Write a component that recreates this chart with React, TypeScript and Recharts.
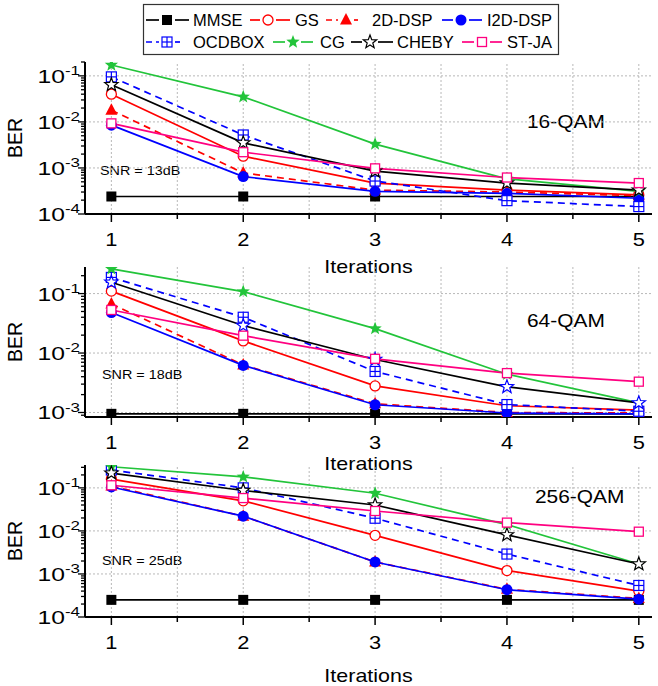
import { LineChart, Line, XAxis, YAxis, ReferenceLine } from "recharts";

const iterations = [1, 2, 3, 4, 5];
const seriesNames = ["MMSE", "GS", "2D-DSP", "I2D-DSP", "OCDBOX", "CG", "CHEBY", "ST-JA"];

// 16-QAM, SNR = 13dB
const mmse16 = [2.4e-4, 2.4e-4, 2.4e-4, 2.4e-4, 2.4e-4];
const gs16 = [0.04, 0.0018, 4.7e-4, 3.3e-4, 2.6e-4];
const dsp16 = [0.018, 7.8e-4, 3.3e-4, 3.0e-4, 2.5e-4];
const i2d16 = [0.0085, 6.5e-4, 3.1e-4, 2.8e-4, 2.2e-4];
const ocd16 = [0.095, 0.0052, 5.2e-4, 1.95e-4, 1.45e-4];
const cg16 = [0.172, 0.035, 0.0033, 5.8e-4, 3.1e-4];
const cheby16 = [0.064, 0.0035, 8.5e-4, 4.7e-4, 3.3e-4];
const stja16 = [0.0093, 0.0022, 9.8e-4, 6.2e-4, 4.7e-4];

// 64-QAM, SNR = 18dB
const mmse64 = [9.5e-4, 9.5e-4, 9.5e-4, 9.5e-4, 9.5e-4];
const gs64 = [0.11, 0.016, 0.0028, 0.0013, 1.1e-3];
const dsp64 = [0.067, 0.0063, 0.0014, 1.0e-3, 9.8e-4];
const i2d64 = [0.048, 0.0062, 0.00135, 9.8e-4, 9.5e-4];
const ocd64 = [0.187, 0.04, 0.0049, 0.00136, 1.05e-3];
const cg64 = [0.26, 0.108, 0.0257, 0.0044, 0.00145];
const cheby64 = [0.155, 0.029, 0.0078, 0.0027, 0.00145];
const stja64 = [0.053, 0.0196, 0.008, 0.0046, 0.0033];

// 256-QAM, SNR = 25dB
const mmse256 = [2.5e-4, 2.5e-4, 2.5e-4, 2.5e-4, 2.5e-4];
const gs256 = [0.16, 0.05, 0.0079, 0.0012, 4.0e-4];
const dsp256 = [0.11, 0.022, 0.0019, 4.4e-4, 2.7e-4];
const i2d256 = [0.105, 0.022, 0.0019, 4.3e-4, 2.6e-4];
const ocd256 = [0.26, 0.1, 0.0197, 0.0029, 5.4e-4];
const cg256 = [0.31, 0.18, 0.075, 0.014, 0.0017];
const cheby256 = [0.22, 0.087, 0.04, 0.0081, 0.0017];
const stja256 = [0.115, 0.058, 0.029, 0.0156, 0.0096];

const xTicks = [1, 1.5, 2, 2.5, 3, 3.5, 4, 4.5, 5];
const decades = [1e-4, 1e-3, 1e-2, 1e-1];
const minorTicks = decades.flatMap((d) => [1, 2, 3, 4, 5, 6, 7, 8, 9].map((m) => m * d));

const FONT = "'Liberation Sans', Arial, sans-serif";
const RED = "#ff0000";
const BLUE = "#0000ff";
const GREEN = "#22c43a";
const PINK = "#ff0080";

document.body.style.margin = "0";

const styles: Record<string, { color: string; dash?: string; shape: string }> = {
  MMSE: { color: "#000", shape: "square" },
  GS: { color: RED, shape: "circleOpen" },
  "2D-DSP": { color: RED, dash: "7 5", shape: "triangle" },
  "I2D-DSP": { color: BLUE, shape: "circle" },
  OCDBOX: { color: BLUE, dash: "7 5", shape: "boxPlus" },
  CG: { color: GREEN, shape: "star" },
  CHEBY: { color: "#000", shape: "starOpen" },
  "ST-JA": { color: PINK, shape: "squareOpen" },
};

function toRows(cols: number[][]) {
  return iterations.map((it, i) => {
    const row: Record<string, number> = { it };
    seriesNames.forEach((n, k) => (row[n] = cols[k][i]));
    return row;
  });
}

const rows16 = toRows([mmse16, gs16, dsp16, i2d16, ocd16, cg16, cheby16, stja16]);
const rows64 = toRows([mmse64, gs64, dsp64, i2d64, ocd64, cg64, cheby64, stja64]);
const rows256 = toRows([mmse256, gs256, dsp256, i2d256, ocd256, cg256, cheby256, stja256]);

function starPath(cx: number, cy: number, R: number) {
  const pts: string[] = [];
  for (let i = 0; i < 10; i++) {
    const a = (-90 + i * 36) * (Math.PI / 180);
    const r = i % 2 ? R * 0.42 : R;
    pts.push(`${cx + r * Math.cos(a)},${cy + r * Math.sin(a)}`);
  }
  return `M${pts.join("L")}Z`;
}

function Marker({ shape, cx, cy, color }: { shape: string; cx: number; cy: number; color: string }) {
  switch (shape) {
    case "square":
      return <rect x={cx - 5} y={cy - 5} width={10} height={10} fill={color} />;
    case "circleOpen":
      return <circle cx={cx} cy={cy} r={5} fill="#fff" stroke={color} strokeWidth={1.3} />;
    case "triangle":
      return <path d={`M${cx},${cy - 7}L${cx + 6},${cy + 4.5}L${cx - 6},${cy + 4.5}Z`} fill={color} />;
    case "circle":
      return <circle cx={cx} cy={cy} r={5.5} fill={color} />;
    case "boxPlus":
      return (
        <g stroke={color} strokeWidth={1.2}>
          <rect x={cx - 5} y={cy - 5} width={10} height={10} fill="#fff" />
          <line x1={cx - 5} x2={cx + 5} y1={cy} y2={cy} />
          <line x1={cx} x2={cx} y1={cy - 5} y2={cy + 5} />
        </g>
      );
    case "star":
      return <path d={starPath(cx, cy, 7)} fill={color} />;
    case "starOpen":
      return <path d={starPath(cx, cy, 7)} fill="#fff" stroke={color} strokeWidth={1.2} />;
    default:
      return <rect x={cx - 4.5} y={cy - 4.5} width={9} height={9} fill="#fff" stroke={color} strokeWidth={1.3} />;
  }
}

// text drawn a bit wider than tall, like the original export
function WideText({ x, y, size, sx, anchor = "start", children }: any) {
  return (
    <g transform={`translate(${x} ${y}) scale(${sx} 1)`}>
      <text x={0} y={0} textAnchor={anchor} fontSize={size} fontFamily={FONT} fill="#000">
        {children}
      </text>
    </g>
  );
}

function XTick(p: any) {
  const v = p.payload.value;
  const major = Number.isInteger(v);
  return (
    <g>
      <line x1={p.x} x2={p.x} y1={p.y} y2={p.y + (major ? 8 : 5)} stroke="#000" strokeWidth={1.5} />
      {major && (
        <WideText x={p.x} y={p.y + 32} size={19} sx={1.15} anchor="middle">
          {v}
        </WideText>
      )}
    </g>
  );
}

function YTick(p: any) {
  const v = p.payload.value;
  const exp = Math.round(Math.log10(v));
  const major = Math.abs(v - Math.pow(10, exp)) < Math.pow(10, exp) * 1e-6;
  return (
    <g>
      <line x1={p.x - (major ? 7 : 4)} x2={p.x} y1={p.y} y2={p.y} stroke="#000" strokeWidth={1.3} />
      {major && (
        <WideText x={p.x - 5} y={p.y + 7} size={19} sx={1.3} anchor="end">
          10
          <tspan dy={-8} fontSize={13}>
            {String(exp)}
          </tspan>
        </WideText>
      )}
    </g>
  );
}

type PanelProps = {
  data: Record<string, number>[];
  domain: [number, number];
  top: number;
  bottom: number;
  titleOffset: number;
  chebyColor?: string;
};

function Panel({ data, domain, top, bottom, titleOffset, chebyColor }: PanelProps) {
  const [lo, hi] = domain;
  const yTicks = minorTicks.filter((v) => v >= lo * 0.999 && v <= hi * 1.001);
  const grid = "#b8b8b8";
  return (
    <div style={{ position: "absolute", left: 0, top: 0 }}>
      <LineChart width={658} height={686} data={data} margin={{ top, right: 6, bottom: 686 - bottom - 60, left: 0 }}>
        <XAxis
          dataKey="it"
          type="number"
          domain={[0.8, 5.1]}
          ticks={xTicks}
          interval={0}
          tickSize={0}
          tickMargin={0}
          height={60}
          allowDataOverflow
          axisLine={{ stroke: "#000", strokeWidth: 2 }}
          tickLine={false}
          tick={(p: any) => <XTick {...p} />}
          label={(p: any) => {
            const vb = p.viewBox;
            return (
              <WideText x={vb.x + vb.width / 2} y={vb.y + titleOffset + 7} size={19} sx={1.13} anchor="middle">
                Iterations
              </WideText>
            );
          }}
        />
        <YAxis
          type="number"
          scale="log"
          domain={domain}
          ticks={yTicks}
          interval={0}
          tickSize={0}
          tickMargin={0}
          width={85}
          allowDataOverflow
          axisLine={{ stroke: "#000", strokeWidth: 2 }}
          tickLine={false}
          tick={(p: any) => <YTick {...p} />}
          label={(p: any) => {
            const vb = p.viewBox;
            const cx = vb.x + 15;
            const cy = vb.y + vb.height / 2;
            return (
              <text x={cx} y={cy} transform={`rotate(-90 ${cx} ${cy})`} textAnchor="middle" dominantBaseline="central" fontSize={19.5} fontFamily={FONT} fill="#000">
                BER
              </text>
            );
          }}
        />
        {xTicks.map((v) => (
          <ReferenceLine key={`gx${v}`} x={v} stroke={grid} strokeDasharray="2 2" strokeWidth={1} />
        ))}
        {decades
          .filter((d) => d > lo * 1.01 && d < hi)
          .map((d) => (
            <ReferenceLine key={`gy${d}`} y={d} stroke={grid} strokeDasharray="2 2" strokeWidth={1} />
          ))}
        {seriesNames.map((name) => {
          const s = styles[name];
          const mc = name === "CHEBY" && chebyColor ? chebyColor : s.color;
          return (
            <Line
              key={name}
              dataKey={name}
              type="linear"
              stroke={s.color}
              strokeWidth={1.7}
              strokeDasharray={s.dash}
              isAnimationActive={false}
              activeDot={false}
              dot={(p: any) => <Marker key={`${name}-${p.index}`} shape={s.shape} cx={p.cx} cy={p.cy} color={mc} />}
            />
          );
        })}
      </LineChart>
    </div>
  );
}

function Overlay() {
  const row1 = [
    { name: "MMSE", x0: 146, m: 167, x1: 189, tx: 193 },
    { name: "GS", x0: 250, m: 268, x1: 290, tx: 295 },
    { name: "2D-DSP", x0: 326, m: 346, x1: 358, tx: 372 },
    { name: "I2D-DSP", x0: 442, m: 461, x1: 482, tx: 487 },
  ];
  const row2 = [
    { name: "OCDBOX", x0: 146, m: 167, x1: 180, tx: 193 },
    { name: "CG", x0: 273, m: 293, x1: 313, tx: 320 },
    { name: "CHEBY", x0: 351, m: 370, x1: 393, tx: 397 },
    { name: "ST-JA", x0: 462, m: 482, x1: 502, tx: 507 },
  ];
  const item = (it: any, y: number) => {
    const s = styles[it.name];
    return (
      <g key={it.name}>
        <line x1={it.x0} x2={it.m - 8} y1={y} y2={y} stroke={s.color} strokeWidth={1.7} strokeDasharray={s.dash ? "6 4" : undefined} />
        <line x1={it.m + 8} x2={it.x1} y1={y} y2={y} stroke={s.color} strokeWidth={1.7} />
        <Marker shape={s.shape} cx={it.m} cy={y} color={s.color} />
        <text x={it.tx} y={y + 6} fontSize={16.5} fontFamily={FONT} fill="#000">
          {it.name}
        </text>
      </g>
    );
  };
  return (
    <svg width={658} height={686} style={{ position: "absolute", left: 0, top: 0 }}>
      <rect x={143.5} y={4.5} width={415} height={50} fill="#fff" stroke="#333" strokeWidth={1.2} />
      {row1.map((it) => item(it, 20))}
      {row2.map((it) => item(it, 42))}
      <WideText x={527} y={128} size={19} sx={1.1}>16-QAM</WideText>
      <WideText x={100} y={175} size={12.5} sx={1.15}>SNR = 13dB</WideText>
      <WideText x={527} y={327} size={19} sx={1.1}>64-QAM</WideText>
      <WideText x={102} y={379} size={12.5} sx={1.15}>SNR = 18dB</WideText>
      <WideText x={535} y={503} size={19} sx={1.1}>256-QAM</WideText>
      <WideText x={102} y={565} size={12.5} sx={1.15}>SNR = 25dB</WideText>
    </svg>
  );
}

export default function App() {
  return (
    <div style={{ position: "relative", width: 658, height: 686, overflow: "hidden", background: "#fff" }}>
      <Overlay />
      <Panel data={rows16} domain={[1e-4, 0.2]} top={62} bottom={214} titleOffset={52} />
      <Panel data={rows64} domain={[8.4e-4, 0.28]} top={267} bottom={417} titleOffset={46} chebyColor={BLUE} />
      <Panel data={rows256} domain={[1e-4, 0.34]} top={465} bottom={617} titleOffset={58} />
    </div>
  );
}
